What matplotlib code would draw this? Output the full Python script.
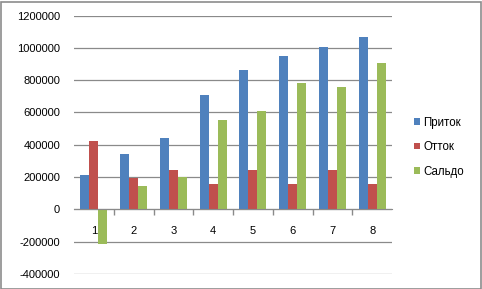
import numpy as np
import matplotlib
matplotlib.use('Agg')
import matplotlib.pyplot as plt
from matplotlib.patches import Rectangle

plt.rcParams['font.family'] = ['Liberation Sans', 'DejaVu Sans']

# data
categories = ['1', '2', '3', '4', '5', '6', '7', '8']
pritok = [213000, 342000, 443000, 708000, 863000, 950000, 1004000, 1068000]
ottok = [422000, 197000, 243000, 155000, 243000, 155000, 243000, 155000]
saldo = [-217000, 143000, 198000, 553000, 609000, 783000, 758000, 907000]
series_names = ['Приток', 'Отток', 'Сальдо']
colors = ['#4F81BD', '#C0504D', '#9BBB59']

W, H = 482, 289
fig = plt.figure(figsize=(W / 100, H / 100), dpi=100)
# outer frame
fig.patches.append(Rectangle((0.5 / W, 0.5 / H), 1 - 2 / W, 1 - 2 / H, transform=fig.transFigure,
                             fill=False, edgecolor='#8c8c8c', linewidth=1.2))

left, right, top, bottom = 74, 392, 15.5, 274
ax = fig.add_axes([left / W, 1 - bottom / H, (right - left) / W, (bottom - top) / H])

x = np.arange(1, len(categories) + 1)
bw = 0.225
for i, (vals, c) in enumerate(zip([pritok, ottok, saldo], colors)):
    ax.bar(x + (i - 1) * bw, vals, width=bw, color=c, label=series_names[i], zorder=3)

ax.set_xlim(0.5, len(categories) + 0.5)
ax.set_ylim(-400000, 1200000)
ax.set_yticks(np.arange(-400000, 1200001, 200000))
ax.set_yticklabels([str(v) for v in range(-400000, 1200001, 200000)])
ax.grid(axis='y', color='#8a8a8a', linewidth=0.9, zorder=0)
ax.tick_params(axis='y', length=0, pad=10, labelsize=8)

for s in ['left', 'right', 'top']:
    ax.spines[s].set_visible(False)
ax.spines['bottom'].set_position(('data', 0))
ax.spines['bottom'].set_color('#8a8a8a')
ax.spines['bottom'].set_zorder(4)

ax.set_xticks(np.arange(1.5, len(categories), 1.0))
ax.set_xticklabels([])
ax.set_xticks(x, minor=True)
ax.set_xticklabels(categories, minor=True)
ax.tick_params(axis='x', which='major', direction='out', length=4, color='#8a8a8a', width=1)
ax.tick_params(axis='x', which='minor', length=0, pad=12, labelsize=8)

leg = fig.legend(loc='upper left', bbox_to_anchor=(409 / W, 1 - 112 / H), frameon=False,
                 fontsize=8.3, handlelength=0.55, handleheight=0.55, handletextpad=0.3,
                 labelspacing=1.08, borderaxespad=0)

fig.savefig('out.png', dpi=100)
